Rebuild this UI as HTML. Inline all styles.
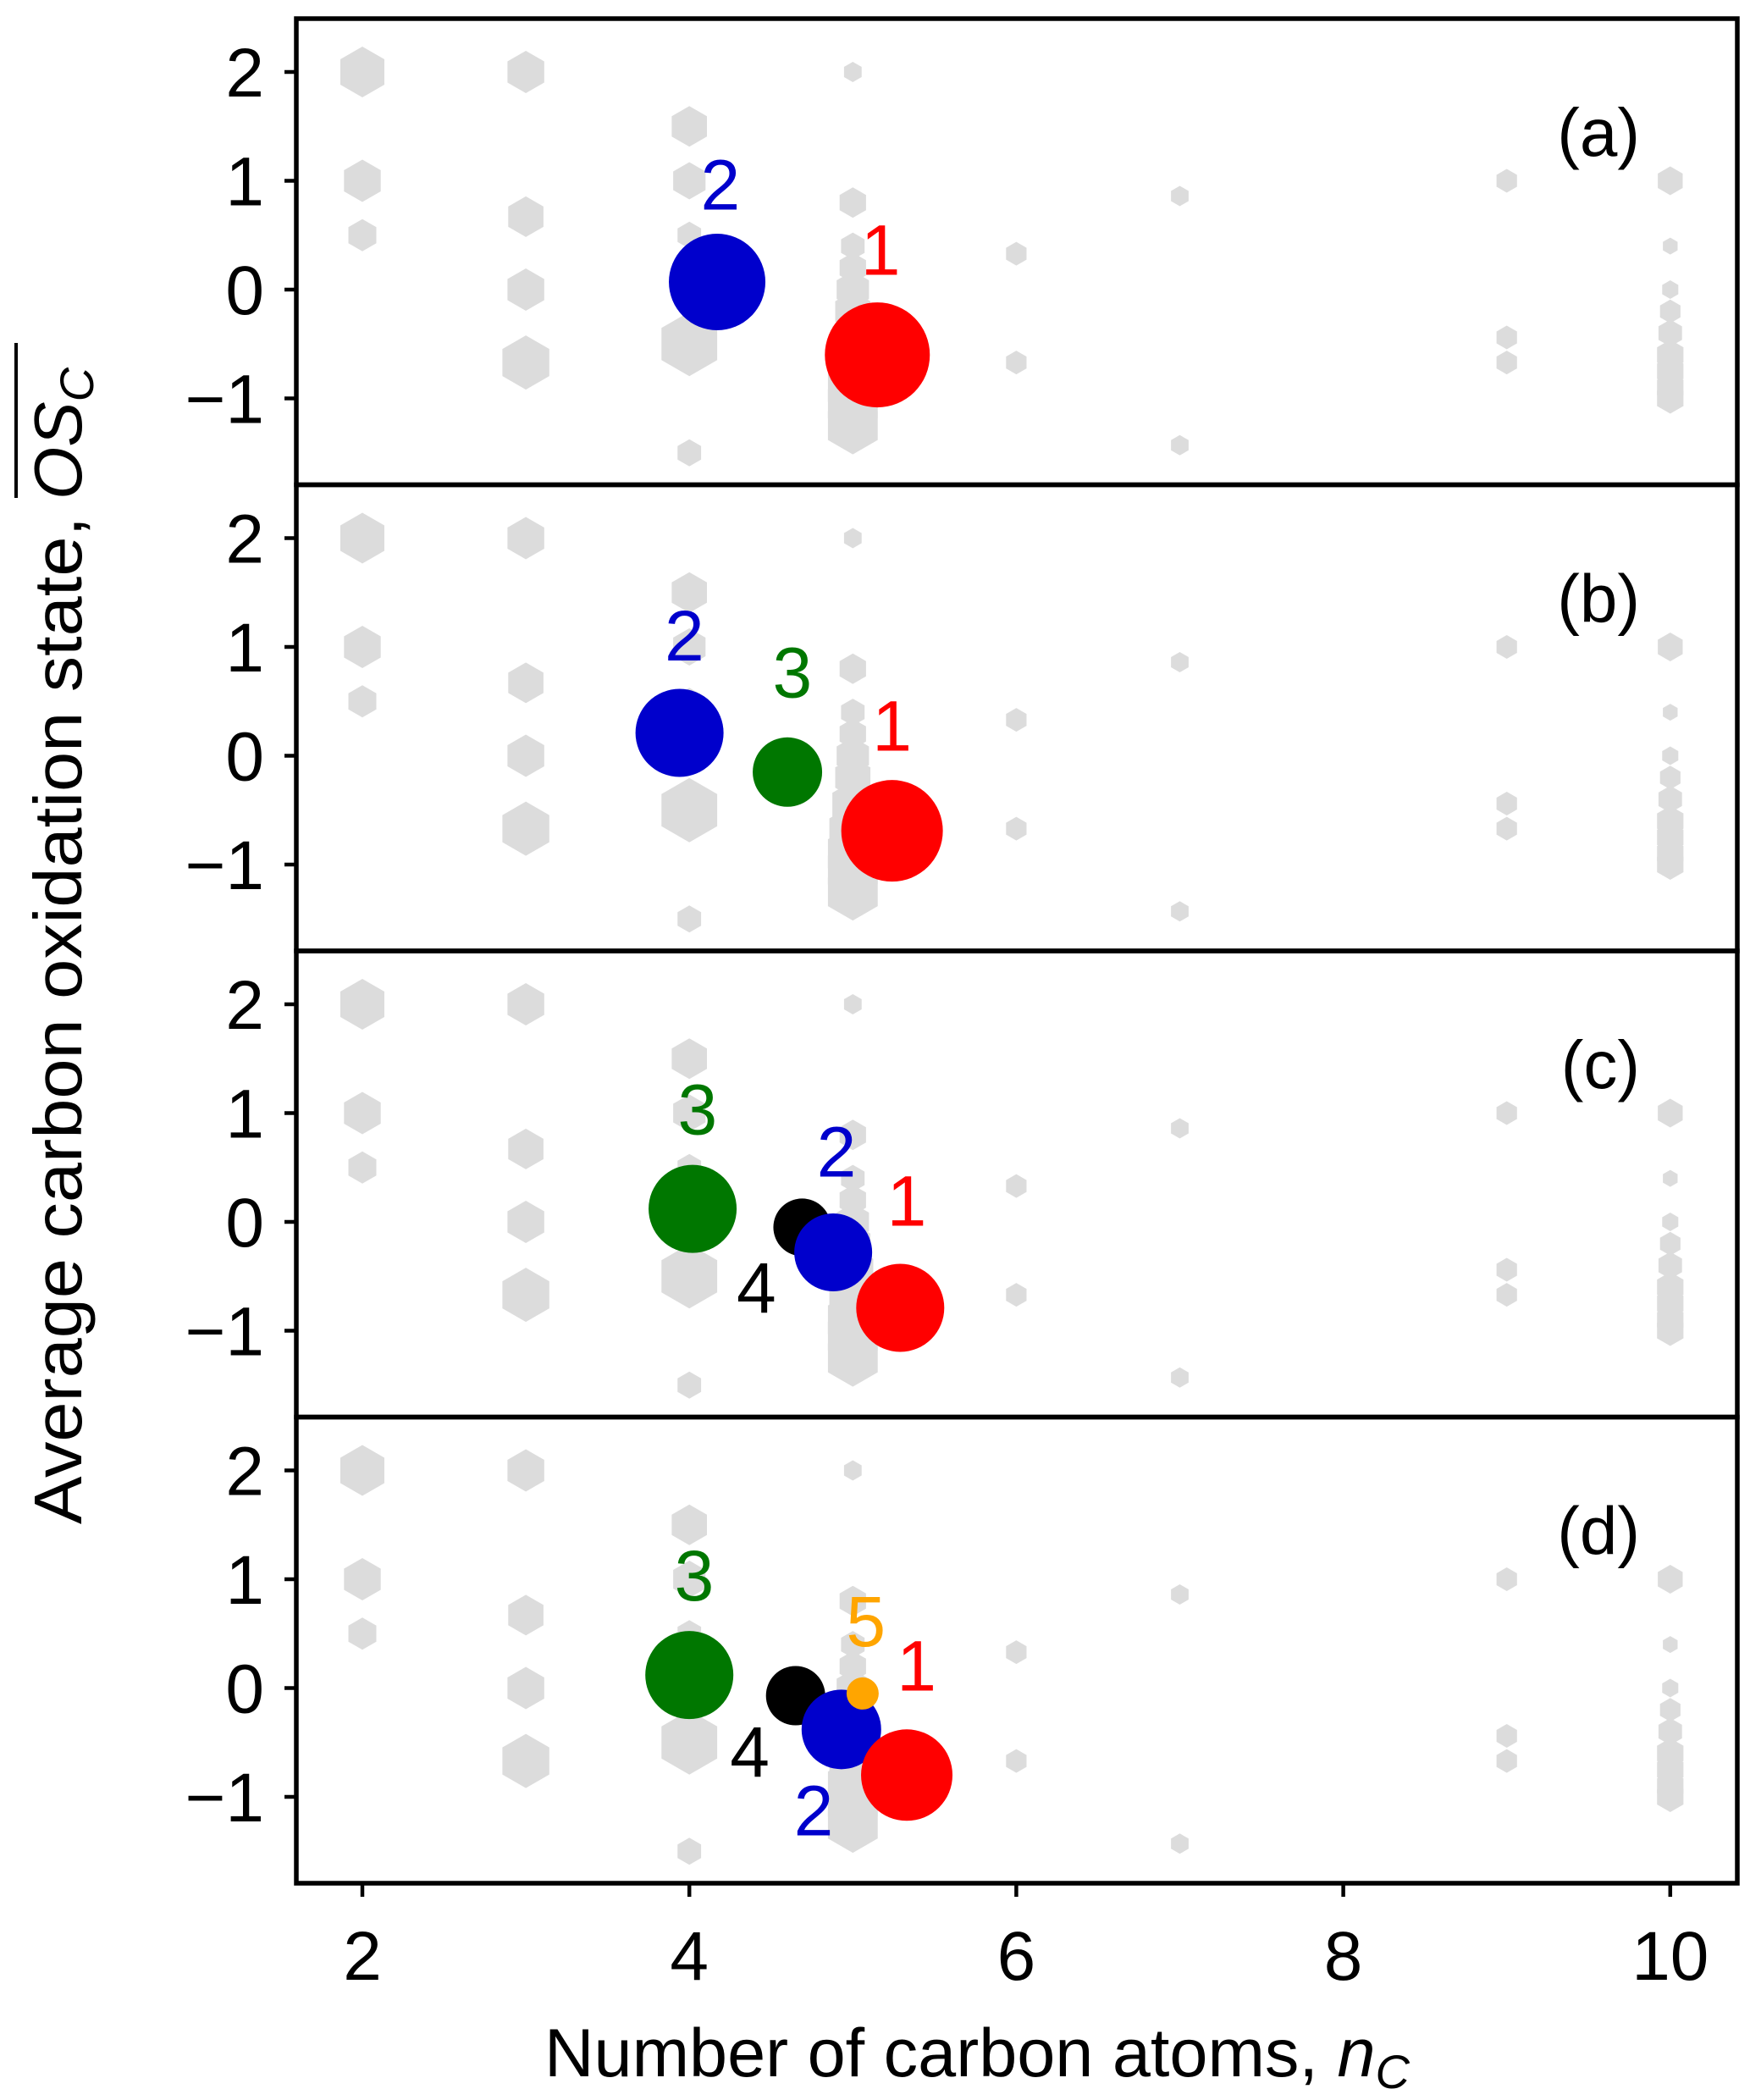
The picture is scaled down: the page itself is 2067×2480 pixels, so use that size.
<!DOCTYPE html>
<html><head><meta charset="utf-8"><style>
html,body{margin:0;padding:0;background:#fff;}
svg{display:block;font-family:"Liberation Sans",Arial,sans-serif;}
</style></head><body>
<svg id="chart" width="2067" height="2480" viewBox="0 0 2067 2480" xmlns="http://www.w3.org/2000/svg">
<g id="bg"></g>
<g id="pts"></g>
<g id="frames"></g>
<g id="axes"></g>
<text transform="translate(96,1800) rotate(-90)" text-anchor="start" font-size="80" textLength="1190" lengthAdjust="spacingAndGlyphs">Average carbon oxidation state,</text>
<text transform="translate(96,590) rotate(-90)" text-anchor="start" font-size="80" font-style="italic">OS<tspan font-size="56" dy="14">C</tspan></text>
<line x1="19" y1="588" x2="19" y2="405" stroke="#000" stroke-width="4"/>
<text x="1154" y="2452" text-anchor="middle" font-size="81">Number of carbon atoms, <tspan font-style="italic">n<tspan font-size="56" dy="14">C</tspan></tspan></text>
</svg>
<script>
// background hexbin data: carbon number, oxidation state, size class
const hexX = [2,2,2, 3,3,3,3, 4,4,4,4,4,4, 5,5,5,5,5,5,5,5,5,5,5, 6,6, 7,7, 9,9,9, 10,10,10,10,10,10,10,10,10];
const hexY = [2,1,0.5, 2,0.67,0,-0.67, 1.5,1,0.5,0.1,-0.5,-1.5, 2,0.8,0.4,0.2,0,-0.2,-0.45,-0.7,-0.9,-1.05,-1.25, 0.33,-0.67, 0.86,-1.43, 1,-0.44,-0.67, 1,0.4,0,-0.2,-0.4,-0.6,-0.75,-0.9,-1.0];
const hexS = [30,25,19, 25,24,25,32, 24,22,16,20,38,16, 12,18,16,18,22,24,28,32,34,34,34, 14,14, 12,12, 14,14,14, 17,10,11,14,16,18,18,18,18];

// panel species points
const panels = ['(a)','(b)','(c)','(d)'];
const ptPanel = [0,0, 1,1,1, 2,2,2,2, 3,3,3,3,3];
const ptLabel = ['2','1', '2','3','1', '3','4','2','1', '3','4','2','5','1'];
const ptX = [4.17,5.15, 3.94,4.60,5.24, 4.02,4.69,4.88,5.29, 4.00,4.65,4.93,5.06,5.33];
const ptY = [0.07,-0.60, 0.21,-0.15,-0.69, 0.12,-0.05,-0.28,-0.79, 0.12,-0.07,-0.38,-0.05,-0.80];
const ptR = [57,62, 52,41,60, 52,34,46,52, 52,35,47,19,54];
const ptColor = ['#0000cc','#ff0000', '#0000cc','#007700','#ff0000', '#007700','#000000','#0000cc','#ff0000', '#007700','#000000','#0000cc','#ffa500','#ff0000'];
const lblDX = [0.02,0.02, 0.03,0.03,0.0, 0.03,-0.28,0.02,0.04, 0.03,-0.28,-0.17,0.02,0.06];
const lblDY = [0.9,0.97, 0.9,0.92,0.97, 0.92,-0.55,0.93,0.99, 0.92,-0.51,-0.74,0.67,1.01];

const xTicks = [2,4,6,8,10];
const yTicks = [-1,0,1,2];

const L=350, R=2052, T=22, PH=550.5;
const sx = v => 428 + (v-2)*193.1;
const sy = (p,v) => T + p*PH + 320 - v*128.5;
const NS='http://www.w3.org/2000/svg';
function mk(tag, parent){const e=document.createElementNS(NS,tag);parent.appendChild(e);return e;}
const bg=document.getElementById('bg'), pts=document.getElementById('pts'), fr=document.getElementById('frames'), ax=document.getElementById('axes');

for(let p=0;p<4;p++){
  for(let i=0;i<hexX.length;i++){
    const cx=sx(hexX[i]), cy=sy(p,hexY[i]), r=hexS[i];
    let d='';
    for(let k=0;k<6;k++){const a=Math.PI/2+k*Math.PI/3;d+=(k?'L':'M')+(cx+r*Math.cos(a)).toFixed(1)+','+(cy-r*Math.sin(a)).toFixed(1);}
    const h=mk('path',bg);
    h.setAttribute('d',d+'Z');h.setAttribute('fill','#dcdcdc');
    
    
  }
  const f=mk('rect',fr);
  f.setAttribute('x',L);f.setAttribute('y',T+p*PH);f.setAttribute('width',R-L);f.setAttribute('height',PH);
  f.setAttribute('fill','none');f.setAttribute('stroke','#000');f.setAttribute('stroke-width','5.5');
  
  
  const pl=mk('text',ax);
  pl.setAttribute('x',1937);pl.setAttribute('y',T+p*PH+162);pl.setAttribute('text-anchor','end');pl.setAttribute('font-size','80');
  pl.textContent=panels[p];
  
  
  yTicks.forEach(v=>{
    const y=sy(p,v);
    const t=mk('line',ax);t.setAttribute('x1',L-14);t.setAttribute('x2',L);t.setAttribute('y1',y);t.setAttribute('y2',y);
    t.setAttribute('stroke','#000');t.setAttribute('stroke-width','4.5');
    
    
    const tl=mk('text',ax);tl.setAttribute('x',312);tl.setAttribute('y',y+29);tl.setAttribute('text-anchor','end');tl.setAttribute('font-size','82');
    tl.textContent=v<0?'\u2212'+(-v):String(v);
    
    
  });
}
for(let i=0;i<ptX.length;i++){
  const p=ptPanel[i];
  const c=mk('circle',pts);
  c.setAttribute('cx',sx(ptX[i]));c.setAttribute('cy',sy(p,ptY[i]));c.setAttribute('r',ptR[i]);c.setAttribute('fill',ptColor[i]);
  
  
  const t=mk('text',pts);
  t.setAttribute('x',sx(ptX[i]+lblDX[i]));t.setAttribute('y',sy(p,ptY[i]+lblDY[i])+30);
  t.setAttribute('text-anchor','middle');t.setAttribute('font-size','84');t.setAttribute('fill',ptColor[i]);
  t.textContent=ptLabel[i];
  
  
}
const yb=T+4*PH;
xTicks.forEach(v=>{
  const x=sx(v);
  const t=mk('line',ax);t.setAttribute('x1',x);t.setAttribute('x2',x);t.setAttribute('y1',yb);t.setAttribute('y2',yb+16);
  t.setAttribute('stroke','#000');t.setAttribute('stroke-width','4.5');
  
  
  const tl=mk('text',ax);tl.setAttribute('x',x);tl.setAttribute('y',2338);tl.setAttribute('text-anchor','middle');tl.setAttribute('font-size','82');
  tl.textContent=String(v);
  
  
});
</script>
</body></html>
